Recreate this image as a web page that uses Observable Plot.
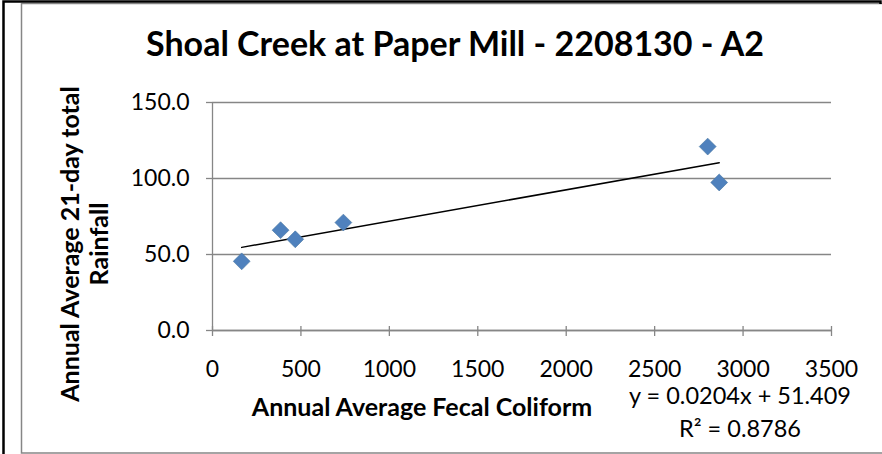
<!DOCTYPE html>
<html><head><meta charset="utf-8">
<script src="https://cdn.jsdelivr.net/npm/d3@7"></script>
<script src="https://cdn.jsdelivr.net/npm/@observablehq/plot@0.6"></script>
<style>
body{margin:0;background:#fff}
#chart{position:relative;width:882px;height:454px}
</style>
</head><body><div id="chart"></div>
<script>
// Data
const fecalColiform = [165, 385, 468, 740, 2800, 2865];
const rainfall = [45.5, 66, 60, 71, 121, 97.4];
const xTicks = [0, 500, 1000, 1500, 2000, 2500, 3000, 3500];
const yTicks = [0, 50, 100, 150];
const titleText = "Shoal Creek at Paper Mill - 2208130 - A2";
const xLabelText = "Annual Average Fecal Coliform";
const yLabelLines = ["Annual Average 21-day total", "Rainfall"];
const equationLines = ["y = 0.0204x + 51.409", "R² = 0.8786"];

const data = fecalColiform.map((x, i) => ({x, y: rainfall[i]}));
const FONT = "Lato, 'Open Sans', sans-serif";
const GRAY = "#868686";

const svg = Plot.plot({
  width: 882, height: 454,
  marginLeft: 212, marginRight: 51, marginTop: 102, marginBottom: 124,
  style: {fontFamily: FONT, fontSize: "23px", color: "#000", background: "#fff", overflow: "visible"},
  x: {domain: [0, 3500]},
  y: {domain: [0, 150]},
  marks: [
    Plot.gridY(yTicks, {stroke: GRAY, strokeOpacity: 1, strokeWidth: 1.3}),
    Plot.ruleX([0], {stroke: GRAY, strokeWidth: 1.3}),
    Plot.ruleY([0], {stroke: GRAY, strokeWidth: 1.3}),
    Plot.axisX({ticks: xTicks, tickFormat: d => String(d), tickSize: 6, tickPadding: 24, stroke: GRAY, strokeWidth: 1.3, fill: "#000", label: null, fontSize: 23}),
    Plot.axisX({ticks: xTicks, tickFormat: () => "", tickSize: -4, stroke: GRAY, strokeWidth: 1.3, label: null}),
    Plot.axisY({ticks: yTicks, tickFormat: d => d.toFixed(1), tickSize: 6, tickPadding: 17, stroke: GRAY, strokeWidth: 1.3, fill: "#000", label: null, fontSize: 23}),
    Plot.linearRegressionY(data, {x: "x", y: "y", stroke: "#000", strokeWidth: 1.5, ci: 0}),
    Plot.dot(data, {x: "x", y: "y", symbol: "diamond2", r: 7.6, fill: "#4F81BD", stroke: "#44739f", strokeWidth: 0.6})
  ]
});

const s = d3.select(svg);
// frame
s.append("rect").attr("x", 21.5).attr("y", 3.5).attr("width", 870).attr("height", 449.5)
  .attr("fill", "none").attr("stroke", GRAY).attr("stroke-width", 1.5);
s.append("path").attr("d", "M3.5,454V1.5H880.5V4").attr("fill", "none").attr("stroke", "#000").attr("stroke-width", 2.5);

// title
s.append("text").attr("x", 455).attr("y", 47).attr("text-anchor", "middle").attr("dominant-baseline", "middle")
  .attr("font-family", FONT).attr("font-weight", "bold").attr("font-size", 34).attr("fill", "#000").text(titleText);
// x label
s.append("text").attr("x", 422).attr("y", 410).attr("text-anchor", "middle").attr("dominant-baseline", "middle")
  .attr("font-family", FONT).attr("font-weight", "bold").attr("font-size", 25).attr("fill", "#000").text(xLabelText);
// y label (two lines)
const yl = s.append("g").attr("transform", "translate(88,244) rotate(-90)");
yLabelLines.forEach((t, i) => {
  yl.append("text").attr("x", 0).attr("y", -15 + i * 29).attr("text-anchor", "middle").attr("dominant-baseline", "middle")
    .attr("font-family", FONT).attr("font-weight", "bold").attr("font-size", 25).attr("fill", "#000").text(t);
});
// regression equation
equationLines.forEach((t, i) => {
  s.append("text").attr("x", 740).attr("y", 398 + i * 33).attr("text-anchor", "middle").attr("dominant-baseline", "middle")
    .attr("font-family", FONT).attr("font-size", 23.5).attr("fill", "#000").text(t);
});

document.getElementById("chart").appendChild(svg);
</script>
</body></html>
